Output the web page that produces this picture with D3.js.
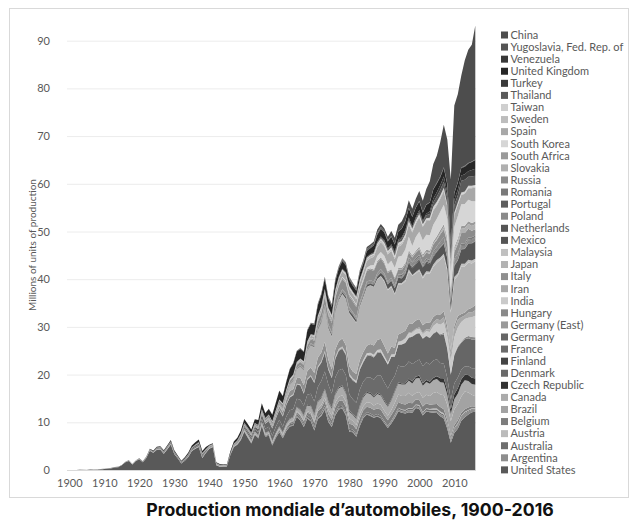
<!DOCTYPE html>
<html>
<head>
<meta charset="utf-8">
<script src="https://cdn.jsdelivr.net/npm/d3@7"></script>
<style>
  body { margin: 0; background: #fff; }
  svg { display: block; }
</style>
</head>
<body>
<svg id="chart" width="637" height="520"></svg>
<script>
// production in millions of units; each country array starts at its first year and runs to 2016
const countries = ["United States", "Argentina", "Australia", "Austria", "Belgium", "Brazil", "Canada",
  "Czech Republic", "Denmark", "Finland", "France", "Germany", "Germany (East)", "Hungary", "India", "Iran",
  "Italy", "Japan", "Malaysia", "Mexico", "Netherlands", "Poland", "Portugal", "Romania", "Russia", "Slovakia",
  "South Africa", "South Korea", "Spain", "Sweden", "Taiwan", "Thailand", "Turkey", "United Kingdom",
  "Venezuela", "Yugoslavia, Fed. Rep. of", "China"];
const firstYear = [1900, 1951, 1946, 1950, 1946, 1957, 1904, 1930, 1950, 1969, 1900, 1901, 1950, 1950, 1946, 1962,
  1900, 1935, 1967, 1950, 1950, 1950, 1960, 1955, 1924, 1993, 1955, 1962, 1946, 1930, 1960, 1965, 1963, 1900,
  1955, 1954, 1955];
const colors = ["#595959", "#8e8e8e", "#6e6e6e", "#bbbbbb", "#7d7d7d", "#a3a3a3", "#ababab", "#333333", "#6a6a6a",
  "#444444", "#6b6b6b", "#666666", "#9a9a9a", "#8a8a8a", "#cacaca", "#a8a8a8", "#8f8f8f", "#b3b3b3", "#c0c0c0",
  "#555555", "#555555", "#8a8a8a", "#5e5e5e", "#7a7a7a", "#8c8c8c", "#b0b0b0", "#9a9a9a", "#d6d6d6", "#a8a8a8",
  "#bdbdbd", "#cfcfcf", "#5a5a5a", "#3a3a3a", "#262626", "#383838", "#555555", "#4d4d4d"];

const unitedStates = [0.004,0.007,0.009,0.011,0.022,0.025,0.034,0.044,0.065,0.13,
  0.19,0.21,0.38,0.49,0.57,0.97,1.62,1.87,1.17,1.88,
  2.23,1.62,2.54,4.03,3.6,4.27,4.3,3.4,4.36,5.34,
  3.36,2.39,1.37,1.92,2.75,3.97,4.45,4.8,2.5,3.58,
  4.47,4.84,1.0,0.7,0.74,0.73,3.09,4.8,5.29,6.25,
  8.0,6.77,5.54,7.32,6.6,9.2,6.92,7.22,5.14,6.73,
  7.91,6.65,8.2,9.11,9.29,11.14,10.4,9.02,10.82,10.21,
  8.28,10.67,11.31,12.68,10.07,8.99,11.5,12.7,12.9,11.48,
  8.01,7.94,6.99,9.2,10.92,11.65,11.34,10.93,11.21,10.85,
  9.78,8.81,9.73,10.9,12.26,11.98,11.83,12.13,12.0,13.02,
  12.8,11.42,12.28,12.11,11.99,11.95,11.26,10.78,8.67,5.71,
  7.74,8.65,10.33,11.07,11.66,12.1,12.2];
const argentina = [0.001,0.002,0.003,0.004,0.006,0.006,0.016,0.027,0.033,
  0.09,0.14,0.13,0.1,0.17,0.19,0.18,0.18,0.18,0.22,
  0.22,0.25,0.27,0.29,0.29,0.24,0.19,0.24,0.18,0.25,
  0.28,0.17,0.13,0.16,0.17,0.14,0.17,0.19,0.16,0.13,
  0.1,0.14,0.26,0.34,0.41,0.29,0.31,0.45,0.46,0.3,
  0.34,0.24,0.16,0.17,0.26,0.32,0.43,0.54,0.6,0.51,
  0.72,0.83,0.76,0.79,0.62,0.53,0.47];
const australia = [0.01,0.02,0.05,0.08,
  0.1,0.12,0.11,0.13,0.16,0.18,0.17,0.19,0.22,0.25,
  0.3,0.25,0.33,0.37,0.39,0.4,0.38,0.4,0.43,0.45,
  0.47,0.46,0.45,0.47,0.46,0.38,0.41,0.4,0.38,0.39,
  0.36,0.38,0.39,0.33,0.37,0.38,0.33,0.32,0.35,0.38,
  0.36,0.3,0.29,0.3,0.33,0.3,0.32,0.32,0.36,0.3,
  0.35,0.32,0.36,0.38,0.41,0.39,0.33,0.33,0.33,0.23,
  0.24,0.22,0.22,0.21,0.18,0.17,0.16];
const austria = [0.005,0.006,0.007,0.008,0.01,0.012,0.013,0.014,0.015,0.016,
  0.018,0.018,0.017,0.015,0.014,0.012,0.012,0.011,0.01,0.01,
  0.01,0.01,0.01,0.01,0.01,0.008,0.008,0.008,0.008,0.01,
  0.01,0.01,0.015,0.02,0.02,0.015,0.01,0.01,0.01,0.015,
  0.02,0.02,0.02,0.05,0.06,0.1,0.1,0.09,0.1,0.11,
  0.14,0.15,0.15,0.12,0.25,0.25,0.27,0.23,0.15,0.07,
  0.1,0.15,0.14,0.16,0.14,0.13,0.1];
const belgium = [0.03,0.05,0.07,0.08,
  0.09,0.1,0.1,0.11,0.12,0.14,0.16,0.18,0.17,0.2,
  0.22,0.2,0.25,0.3,0.33,0.38,0.47,0.55,0.64,0.78,
  0.88,0.92,0.97,1.02,0.93,0.86,1.05,1.1,1.14,1.17,
  1.01,0.98,1.04,1.16,1.05,1.06,1.18,1.17,1.16,1.3,
  1.24,1.15,1.22,1.13,1.2,1.22,1.16,1.12,1.07,1.03,
  1.03,1.19,1.06,0.9,0.9,0.93,0.92,0.83,0.72,0.54,
  0.56,0.56,0.54,0.5,0.52,0.41,0.39];
const brazil = [0.03,0.06,0.1,
  0.13,0.15,0.19,0.17,0.18,0.19,0.22,0.23,0.28,0.35,
  0.42,0.52,0.62,0.75,0.9,0.93,0.99,0.92,1.06,1.13,
  1.17,0.78,0.86,0.9,0.86,0.97,1.06,0.92,1.07,1.01,
  0.91,0.96,1.07,1.39,1.58,1.63,1.8,2.07,1.59,1.36,
  1.68,1.82,1.79,1.83,2.32,2.53,2.61,2.98,3.22,3.18,
  3.38,3.41,3.4,3.71,3.15,2.43,2.16];
const canada = [0.001,0.002,0.002,0.002,0.003,0.005,
  0.006,0.01,0.015,0.02,0.016,0.03,0.06,0.09,0.08,0.09,
  0.09,0.07,0.1,0.15,0.13,0.16,0.2,0.18,0.24,0.26,
  0.15,0.08,0.06,0.07,0.12,0.17,0.16,0.21,0.17,0.16,
  0.23,0.27,0.24,0.18,0.16,0.13,0.09,0.26,0.26,0.29,
  0.39,0.42,0.43,0.48,0.35,0.45,0.47,0.41,0.36,0.37,
  0.4,0.39,0.51,0.63,0.67,0.85,0.9,0.95,1.18,1.35,
  1.16,1.37,1.47,1.58,1.56,1.44,1.64,1.78,1.82,1.63,
  1.37,1.32,1.28,1.5,1.83,1.93,1.85,1.64,1.95,1.93,
  1.92,1.89,1.96,2.24,2.32,2.41,2.4,2.57,2.57,3.06,
  2.96,2.53,2.63,2.55,2.71,2.69,2.57,2.58,2.08,1.49,
  2.07,2.14,2.46,2.38,2.39,2.28,2.37];
const czechRepublic = [0.01,0.01,0.008,0.01,0.012,0.015,0.018,0.02,0.015,0.01,
  0.008,0.007,0.006,0.005,0.004,0.003,0.01,0.015,0.02,0.025,
  0.03,0.03,0.032,0.035,0.04,0.045,0.05,0.055,0.06,0.07,
  0.08,0.085,0.09,0.095,0.1,0.11,0.12,0.13,0.14,0.15,
  0.16,0.17,0.18,0.19,0.19,0.2,0.2,0.2,0.2,0.21,
  0.21,0.21,0.22,0.22,0.22,0.22,0.23,0.23,0.23,0.23,
  0.24,0.2,0.22,0.23,0.19,0.22,0.27,0.37,0.4,0.37,
  0.46,0.47,0.45,0.44,0.45,0.6,0.85,0.94,0.95,0.98,
  1.08,1.2,1.18,1.13,1.25,1.3,1.35];
const denmark = [0.004,0.005,0.005,0.006,0.006,0.007,0.007,0.006,0.006,0.006,
  0.006,0.006,0.005,0.005,0.005,0.004,0.004,0.004,0.003,0.003,
  0.003,0.003,0.003,0.002,0.002,0.002,0.002,0.002,0.002,0.002,
  0.002,0.002,0.002,0.001,0.001,0.001,0.001,0.001,0.001,0.001,
  0.001,0.001,0.001,0.001,0.001,0.001,0.001,0.001,0.001,0.001,
  0.001,0.001,0.001,0.001,0.001,0.001,0.001,0.001,0.001,0.001,
  0.001,0.001,0.001,0.001,0.001,0.001,0.001];
const finland = [0.02,
  0.03,0.03,0.03,0.04,0.04,0.03,0.03,0.03,0.03,0.03,
  0.03,0.03,0.03,0.03,0.03,0.03,0.03,0.03,0.04,0.04,
  0.03,0.02,0.02,0.01,0.01,0.02,0.02,0.03,0.04,0.04,
  0.04,0.04,0.04,0.02,0.01,0.02,0.03,0.02,0.02,0.01,
  0.01,0.003,0.003,0.003,0.005,0.01,0.03];
const france = [0.005,0.007,0.01,0.012,0.015,0.02,0.025,0.025,0.025,0.03,
  0.04,0.04,0.041,0.045,0.03,0.02,0.02,0.02,0.02,0.02,
  0.04,0.055,0.075,0.11,0.145,0.177,0.2,0.19,0.22,0.25,
  0.23,0.2,0.16,0.19,0.18,0.17,0.2,0.2,0.22,0.1,
  0.05,0.03,0.02,0.02,0.01,0.04,0.1,0.14,0.2,0.29,
  0.36,0.45,0.5,0.5,0.6,0.72,0.83,0.93,1.13,1.28,
  1.37,1.2,1.52,1.74,1.62,1.64,2.02,2.01,2.08,2.46,
  2.75,3.01,3.33,3.6,3.46,2.95,3.4,3.51,3.5,3.61,
  3.38,3.02,3.15,3.34,3.06,3.02,3.2,3.49,3.7,3.92,
  3.77,3.61,3.77,3.16,3.56,3.48,3.59,3.58,3.61,3.18,
  3.35,3.63,3.69,3.62,3.67,3.55,3.17,3.02,2.57,2.05,
  2.23,2.24,1.97,1.74,1.82,1.97,2.08];
const germany = [0.001,0.002,0.002,0.003,0.004,0.005,0.006,0.007,0.009,
  0.01,0.013,0.016,0.02,0.015,0.01,0.01,0.01,0.01,0.01,
  0.02,0.025,0.03,0.03,0.03,0.05,0.04,0.1,0.12,0.13,
  0.09,0.07,0.05,0.12,0.17,0.25,0.3,0.33,0.34,0.25,
  0.1,0.1,0.1,0.1,0.08,0.01,0.02,0.03,0.06,0.16,
  0.31,0.37,0.43,0.49,0.68,0.91,1.07,1.21,1.5,1.72,
  2.06,2.15,2.36,2.67,2.91,2.98,3.05,2.48,3.1,3.6,
  3.84,3.98,3.82,3.95,3.1,3.19,3.87,4.1,4.19,4.25,
  3.88,3.9,4.06,4.15,4.05,4.45,4.6,4.63,4.63,4.85,
  4.98,5.02,5.19,4.03,4.36,4.67,4.84,5.02,5.73,5.69,
  5.53,5.69,5.47,5.51,5.57,5.76,5.82,6.21,6.04,5.21,
  5.91,6.31,5.65,5.72,5.91,6.03,6.06];
const germanyEast = [0.02,0.025,0.03,0.035,0.04,0.05,0.055,0.06,0.07,0.08,
  0.09,0.1,0.1,0.11,0.11,0.12,0.12,0.13,0.13,0.14,
  0.15,0.16,0.17,0.18,0.18,0.19,0.2,0.2,0.21,0.21,
  0.22,0.22,0.22,0.22,0.23,0.23,0.23,0.24,0.24,0.25,
  0.15];
const hungary = [0.003,0.004,0.004,0.005,0.005,0.006,0.006,0.007,0.008,0.008,
  0.009,0.01,0.01,0.011,0.011,0.012,0.012,0.013,0.013,0.014,
  0.014,0.014,0.014,0.014,0.014,0.014,0.014,0.014,0.014,0.014,
  0.014,0.013,0.013,0.013,0.013,0.012,0.012,0.012,0.012,0.012,
  0.01,0.01,0.02,0.03,0.04,0.05,0.07,0.08,0.1,0.12,
  0.14,0.14,0.14,0.13,0.12,0.15,0.19,0.29,0.35,0.18,
  0.21,0.22,0.22,0.32,0.44,0.5,0.47];
const india = [0.005,0.008,0.01,0.012,
  0.015,0.017,0.018,0.02,0.022,0.025,0.03,0.035,0.04,0.045,
  0.05,0.055,0.06,0.065,0.07,0.07,0.075,0.075,0.08,0.08,
  0.08,0.08,0.08,0.085,0.08,0.07,0.08,0.09,0.1,0.1,
  0.11,0.13,0.15,0.18,0.22,0.3,0.31,0.33,0.34,0.35,
  0.36,0.37,0.38,0.42,0.5,0.64,0.8,0.8,0.73,0.82,
  0.8,0.81,0.89,1.16,1.51,1.64,2.02,2.25,2.33,2.64,
  3.56,3.93,4.17,3.9,3.84,4.16,4.49];
const iran = [0.002,0.004,0.006,0.01,0.015,0.02,0.025,0.03,
  0.04,0.05,0.06,0.07,0.09,0.1,0.12,0.14,0.15,0.07,
  0.1,0.1,0.1,0.08,0.07,0.05,0.05,0.04,0.04,0.05,
  0.05,0.06,0.07,0.07,0.06,0.07,0.12,0.18,0.2,0.22,
  0.28,0.32,0.4,0.58,0.79,0.82,0.9,1.0,1.05,1.4,
  1.6,1.65,1.0,0.74,1.09,0.98,1.16];
const italy = [0.001,0.001,0.001,0.001,0.002,0.002,0.003,0.003,0.003,0.004,
  0.005,0.006,0.007,0.009,0.01,0.015,0.02,0.02,0.02,0.02,
  0.02,0.025,0.03,0.035,0.04,0.045,0.06,0.055,0.055,0.055,
  0.045,0.03,0.03,0.04,0.045,0.04,0.05,0.07,0.07,0.07,
  0.06,0.05,0.04,0.03,0.01,0.01,0.03,0.04,0.06,0.09,
  0.13,0.15,0.14,0.17,0.21,0.27,0.32,0.35,0.4,0.5,
  0.64,0.76,0.94,1.18,1.09,1.18,1.37,1.54,1.66,1.6,
  1.85,1.82,1.84,1.96,1.77,1.46,1.59,1.58,1.66,1.63,
  1.61,1.43,1.45,1.58,1.6,1.57,1.83,1.91,2.11,2.22,
  2.12,1.88,1.69,1.27,1.53,1.67,1.55,1.82,1.69,1.7,
  1.74,1.58,1.43,1.32,1.14,1.04,1.21,1.28,1.02,0.84,
  0.84,0.79,0.67,0.66,0.7,1.01,1.1];
const japan = [0.005,0.01,0.02,0.02,0.03,
  0.05,0.05,0.04,0.03,0.02,0.01,0.015,0.01,0.02,0.03,
  0.03,0.04,0.04,0.05,0.07,0.07,0.11,0.18,0.19,0.26,
  0.48,0.81,0.99,1.28,1.7,1.88,2.29,3.15,4.09,4.67,
  5.29,5.81,6.29,7.08,6.55,6.94,7.84,8.51,9.27,9.64,
  11.04,11.18,10.73,11.11,11.46,12.27,12.26,12.25,12.7,13.03,
  13.49,13.25,12.5,11.23,10.55,10.2,10.35,10.98,10.05,9.9,
  10.14,9.78,10.26,10.29,10.51,10.8,11.48,11.6,11.58,7.93,
  9.63,8.4,9.94,9.63,9.77,9.28,9.2];
const malaysia = [0.005,0.01,0.015,
  0.02,0.025,0.03,0.04,0.05,0.05,0.06,0.07,0.08,0.09,
  0.1,0.11,0.1,0.09,0.08,0.06,0.05,0.05,0.08,0.12,
  0.2,0.22,0.2,0.2,0.24,0.27,0.34,0.46,0.16,0.3,
  0.28,0.46,0.46,0.44,0.47,0.56,0.5,0.44,0.53,0.49,
  0.57,0.53,0.57,0.6,0.6,0.61,0.51];
const mexico = [0.02,0.025,0.03,0.03,0.03,0.035,0.04,0.045,0.045,0.05,
  0.05,0.06,0.065,0.07,0.09,0.1,0.12,0.13,0.15,0.17,
  0.19,0.21,0.23,0.29,0.35,0.36,0.32,0.28,0.38,0.44,
  0.49,0.6,0.47,0.29,0.36,0.46,0.34,0.4,0.51,0.64,
  0.82,0.99,1.08,1.08,1.12,0.93,1.22,1.36,1.45,1.55,
  1.94,1.85,1.8,1.58,1.58,1.68,2.05,2.1,2.17,1.56,
  2.34,2.68,3.0,3.05,3.37,3.57,3.6];
const netherlands = [0.01,0.012,0.014,0.016,0.018,0.02,0.022,0.025,0.03,0.04,
  0.05,0.05,0.055,0.06,0.065,0.07,0.075,0.08,0.085,0.09,
  0.1,0.1,0.1,0.11,0.1,0.1,0.1,0.1,0.1,0.11,
  0.12,0.12,0.12,0.12,0.12,0.12,0.13,0.13,0.14,0.15,
  0.15,0.1,0.11,0.09,0.1,0.1,0.2,0.21,0.26,0.3,
  0.27,0.24,0.23,0.22,0.25,0.18,0.16,0.14,0.13,0.07,
  0.13,0.11,0.09,0.05,0.09,0.1,0.09];
const poland = [0.01,0.015,0.02,0.025,0.03,0.035,0.035,0.04,0.04,0.04,
  0.04,0.045,0.05,0.055,0.06,0.065,0.07,0.075,0.08,0.09,
  0.1,0.11,0.13,0.16,0.19,0.2,0.25,0.3,0.35,0.38,
  0.4,0.3,0.28,0.32,0.33,0.34,0.34,0.35,0.35,0.34,
  0.31,0.2,0.25,0.35,0.35,0.4,0.42,0.58,0.6,0.65,
  0.5,0.35,0.31,0.32,0.6,0.62,0.71,0.79,0.95,0.88,
  0.87,0.84,0.65,0.59,0.6,0.66,0.68];
const portugal = [0.01,0.015,0.02,0.025,0.03,0.035,0.04,0.045,0.05,0.055,
  0.06,0.065,0.07,0.075,0.08,0.08,0.085,0.09,0.09,0.095,
  0.1,0.1,0.11,0.11,0.11,0.12,0.12,0.13,0.13,0.14,
  0.14,0.15,0.15,0.15,0.16,0.23,0.23,0.24,0.25,0.25,
  0.25,0.24,0.25,0.24,0.23,0.22,0.23,0.18,0.17,0.13,
  0.16,0.19,0.16,0.15,0.16,0.16,0.14];
const romania = [0.005,0.005,0.006,0.007,0.008,
  0.01,0.012,0.014,0.016,0.018,0.02,0.022,0.025,0.03,0.035,
  0.04,0.045,0.05,0.06,0.065,0.07,0.08,0.085,0.09,0.095,
  0.1,0.1,0.1,0.1,0.11,0.11,0.11,0.11,0.11,0.11,
  0.1,0.09,0.08,0.08,0.07,0.07,0.1,0.11,0.11,0.09,
  0.08,0.07,0.08,0.1,0.12,0.19,0.21,0.24,0.25,0.3,
  0.35,0.34,0.34,0.41,0.39,0.39,0.36];
const russia = [0.001,0.001,0.001,0.001,0.001,0.002,
  0.004,0.02,0.024,0.05,0.07,0.1,0.14,0.2,0.21,0.2,
  0.15,0.12,0.04,0.05,0.06,0.07,0.1,0.13,0.2,0.28,
  0.36,0.33,0.3,0.35,0.4,0.45,0.46,0.5,0.51,0.5,
  0.52,0.56,0.58,0.59,0.6,0.62,0.68,0.73,0.8,0.84,
  0.92,1.14,1.38,1.6,1.85,1.96,2.03,2.1,2.15,2.17,
  2.2,2.2,2.17,2.19,2.2,2.23,2.24,2.23,2.21,2.2,
  2.0,1.86,1.55,1.3,1.04,1.0,1.0,1.1,1.02,1.17,
  1.2,1.25,1.22,1.28,1.39,1.35,1.5,1.66,1.79,0.72,
  1.4,1.99,2.23,2.18,1.88,1.38,1.3];
const slovakia = [0.01,0.02,0.03,0.04,0.05,0.13,0.13,
  0.18,0.18,0.23,0.28,0.22,0.22,0.3,0.57,0.58,0.46,
  0.56,0.64,0.9,0.98,0.99,1.0,1.04];
const southAfrica = [0.03,0.04,0.05,0.06,0.07,
  0.08,0.09,0.1,0.12,0.14,0.16,0.18,0.2,0.22,0.25,
  0.3,0.3,0.3,0.33,0.35,0.35,0.3,0.25,0.3,0.33,
  0.4,0.42,0.38,0.35,0.37,0.3,0.25,0.28,0.31,0.32,
  0.33,0.3,0.3,0.3,0.31,0.39,0.36,0.36,0.33,0.32,
  0.36,0.4,0.4,0.42,0.45,0.53,0.59,0.53,0.56,0.37,
  0.47,0.53,0.54,0.55,0.57,0.62,0.6];
const southKorea = [0.002,0.003,0.004,0.005,0.007,0.01,0.015,0.02,
  0.03,0.02,0.02,0.03,0.03,0.04,0.05,0.09,0.16,0.2,
  0.12,0.13,0.16,0.22,0.27,0.38,0.6,0.98,1.08,1.13,
  1.32,1.5,1.73,2.05,2.31,2.53,2.81,2.82,1.95,2.84,
  3.11,2.95,3.15,3.18,3.47,3.7,3.84,4.09,3.83,3.51,
  4.27,4.66,4.56,4.52,4.52,4.56,4.23];
const spain = [0.001,0.002,0.003,0.004,
  0.005,0.006,0.008,0.01,0.013,0.02,0.025,0.03,0.04,0.045,
  0.05,0.07,0.1,0.14,0.15,0.21,0.29,0.36,0.39,0.45,
  0.54,0.59,0.7,0.82,0.84,0.81,0.86,1.13,1.14,1.12,
  1.18,0.99,1.07,1.29,1.31,1.42,1.53,1.7,1.87,2.05,
  2.05,2.08,2.12,1.77,2.14,2.33,2.41,2.56,2.83,2.85,
  3.03,2.85,2.86,3.03,3.01,2.75,2.78,2.89,2.54,2.17,
  2.39,2.35,1.98,2.16,2.4,2.73,2.89];
const sweden = [0.005,0.005,0.004,0.005,0.006,0.007,0.008,0.01,0.01,0.01,
  0.008,0.006,0.005,0.005,0.005,0.005,0.01,0.015,0.02,0.025,
  0.03,0.035,0.04,0.04,0.045,0.05,0.06,0.07,0.09,0.11,
  0.13,0.14,0.15,0.17,0.19,0.2,0.21,0.22,0.25,0.28,
  0.31,0.32,0.33,0.34,0.36,0.37,0.37,0.28,0.3,0.35,
  0.3,0.3,0.35,0.41,0.43,0.45,0.46,0.48,0.47,0.45,
  0.4,0.34,0.35,0.35,0.4,0.39,0.37,0.38,0.37,0.34,
  0.3,0.29,0.28,0.29,0.34,0.34,0.33,0.37,0.31,0.15,
  0.22,0.19,0.16,0.16,0.15,0.19,0.2];
const taiwan = [0.003,0.004,0.005,0.006,0.006,0.007,0.007,0.008,0.009,0.01,
  0.01,0.015,0.02,0.03,0.04,0.05,0.06,0.08,0.1,0.12,
  0.13,0.13,0.12,0.14,0.15,0.16,0.18,0.22,0.26,0.32,
  0.36,0.41,0.42,0.4,0.42,0.41,0.38,0.38,0.4,0.35,
  0.37,0.27,0.33,0.39,0.43,0.45,0.3,0.28,0.18,0.23,
  0.3,0.34,0.34,0.34,0.38,0.35,0.31];
const thailand = [0.003,0.005,0.007,0.008,0.01,
  0.01,0.012,0.015,0.02,0.025,0.03,0.035,0.04,0.05,0.06,
  0.07,0.07,0.07,0.08,0.08,0.08,0.09,0.1,0.15,0.2,
  0.3,0.27,0.33,0.42,0.43,0.52,0.56,0.36,0.16,0.33,
  0.41,0.46,0.58,0.75,0.93,1.12,1.19,1.29,1.39,1.0,
  1.64,1.46,2.48,2.46,1.88,1.91,1.94];
const turkey = [0.002,0.004,0.006,0.008,0.01,0.015,0.02,
  0.03,0.035,0.04,0.05,0.06,0.07,0.08,0.08,0.07,0.06,
  0.05,0.06,0.07,0.08,0.09,0.1,0.12,0.15,0.16,0.2,
  0.21,0.24,0.27,0.35,0.22,0.28,0.28,0.34,0.34,0.3,
  0.43,0.27,0.35,0.56,0.82,0.88,0.99,1.1,1.15,0.87,
  1.09,1.19,1.07,1.13,1.17,1.36,1.49];
const unitedKingdom = [0.001,0.002,0.003,0.004,0.006,0.008,0.01,0.012,0.015,0.018,
  0.02,0.022,0.025,0.03,0.025,0.02,0.02,0.015,0.015,0.03,
  0.05,0.04,0.07,0.09,0.15,0.17,0.18,0.21,0.21,0.24,
  0.24,0.23,0.23,0.29,0.34,0.4,0.46,0.51,0.45,0.4,
  0.15,0.14,0.16,0.12,0.13,0.14,0.37,0.44,0.51,0.63,
  0.78,0.73,0.69,0.83,1.04,1.24,1.0,1.15,1.36,1.56,
  1.81,1.46,1.67,2.01,2.33,2.18,2.04,1.94,2.23,2.18,
  2.1,2.2,2.33,2.16,1.94,1.65,1.71,1.72,1.61,1.48,
  1.31,1.18,1.16,1.29,1.13,1.31,1.25,1.39,1.54,1.63,
  1.57,1.45,1.54,1.57,1.69,1.77,1.92,1.94,1.98,1.97,
  1.81,1.68,1.82,1.85,1.86,1.8,1.65,1.75,1.65,1.09,
  1.39,1.46,1.58,1.6,1.6,1.68,1.82];
const venezuela = [0.005,0.008,0.01,0.015,0.02,
  0.03,0.03,0.035,0.04,0.045,0.05,0.055,0.06,0.065,0.07,
  0.08,0.09,0.1,0.12,0.14,0.15,0.16,0.17,0.18,0.16,
  0.14,0.15,0.14,0.1,0.08,0.1,0.12,0.13,0.14,0.1,
  0.08,0.1,0.11,0.08,0.07,0.08,0.07,0.11,0.1,0.06,
  0.1,0.13,0.08,0.04,0.1,0.15,0.17,0.17,0.14,0.11,
  0.1,0.13,0.1,0.07,0.04,0.02,0.003];
const yugoslavia = [0.005,0.008,0.01,0.015,0.02,0.025,
  0.03,0.035,0.04,0.05,0.06,0.07,0.08,0.09,0.1,0.12,
  0.15,0.17,0.19,0.21,0.23,0.25,0.26,0.27,0.28,0.29,
  0.29,0.28,0.27,0.26,0.26,0.25,0.26,0.28,0.29,0.3,
  0.3,0.2,0.05,0.02,0.01,0.01,0.01,0.01,0.02,0.02,
  0.02,0.02,0.015,0.015,0.015,0.014,0.014,0.012,0.011,0.01,
  0.016,0.014,0.01,0.11,0.1,0.08,0.08];
const china = [0.0001,0.002,0.008,0.016,0.02,
  0.023,0.004,0.01,0.02,0.028,0.04,0.056,0.02,0.025,0.053,
  0.087,0.11,0.11,0.12,0.1,0.14,0.13,0.13,0.15,0.19,
  0.22,0.18,0.2,0.24,0.32,0.44,0.37,0.47,0.65,0.59,
  0.51,0.71,1.06,1.3,1.35,1.45,1.47,1.58,1.63,1.83,
  2.07,2.33,3.29,4.44,5.23,5.71,7.19,8.88,9.3,13.79,
  18.26,18.42,19.27,22.12,23.72,24.5,28.12];

const seriesValues = [unitedStates, argentina, australia, austria, belgium, brazil, canada, czechRepublic,
  denmark, finland, france, germany, germanyEast, hungary, india, iran, italy, japan, malaysia, mexico,
  netherlands, poland, portugal, romania, russia, slovakia, southAfrica, southKorea, spain, sweden, taiwan,
  thailand, turkey, unitedKingdom, venezuela, yugoslavia, china];

const years = d3.range(1900, 2017);
const yearTicks = [1900, 1910, 1920, 1930, 1940, 1950, 1960, 1970, 1980, 1990, 2000, 2010];
const valueTicks = [0, 10, 20, 30, 40, 50, 60, 70, 80, 90];

// build the table the stack layout wants
const table = years.map(yr => {
  const row = { year: yr };
  countries.forEach((c, i) => {
    const k = yr - firstYear[i];
    const v = seriesValues[i][k];
    row[c] = (k >= 0 && v !== undefined) ? v : 0;
  });
  return row;
});

const svg = d3.select('#chart');
const font = 'Lato, "Liberation Sans", sans-serif';

svg.append('rect')
  .attr('x', 9.5).attr('y', 8.5)
  .attr('width', 619).attr('height', 489)
  .attr('fill', '#fff')
  .attr('stroke', '#d9d9d9');

const x = d3.scaleLinear().domain([1900, 2016]).range([69.3, 475.3]);
const y = d3.scaleLinear().domain([0, 90]).range([470, 40.7]);

// y axis + gridlines
const yAxis = svg.append('g')
  .attr('transform', 'translate(67,0)')
  .call(d3.axisLeft(y).tickValues(valueTicks).tickSize(-409).tickPadding(17));
yAxis.select('.domain').remove();
yAxis.selectAll('line').attr('stroke', '#ececec');
yAxis.selectAll('text')
  .style('font-family', font)
  .style('font-size', '11px')
  .attr('fill', '#595959');

// stacked areas
const stack = d3.stack().keys(countries);
const layers = stack(table);

const area = d3.area()
  .x(d => x(d.data.year))
  .y0(d => y(d[0]))
  .y1(d => y(d[1]));

svg.append('g')
  .selectAll('path')
  .data(layers)
  .join('path')
  .attr('d', area)
  .attr('fill', (d, i) => colors[i]);

// x axis
svg.append('line')
  .attr('x1', 67).attr('x2', 476)
  .attr('y1', 470.5).attr('y2', 470.5)
  .attr('stroke', '#d9d9d9');

const xAxis = svg.append('g')
  .attr('transform', 'translate(0,470)')
  .call(d3.axisBottom(x).tickValues(yearTicks).tickFormat(d3.format('d')).tickSize(0).tickPadding(9));
xAxis.select('.domain').remove();
xAxis.selectAll('text')
  .style('font-family', font)
  .style('font-size', '11px')
  .attr('fill', '#595959');

// y axis title
svg.append('text')
  .attr('transform', 'translate(36,245) rotate(-90)')
  .attr('text-anchor', 'middle')
  .style('font-family', font)
  .style('font-size', '10px')
  .attr('fill', '#595959')
  .text('Millions of units of production');

// legend, top entry is the last series
const legendItems = countries.map((c, i) => ({ name: c, color: colors[i] })).reverse();
const legend = svg.append('g')
  .selectAll('g')
  .data(legendItems)
  .join('g')
  .attr('transform', (d, i) => `translate(501,${35 + i * 12.08})`);

legend.append('rect')
  .attr('x', 0).attr('y', -3.5)
  .attr('width', 7).attr('height', 7)
  .attr('fill', d => d.color);

legend.append('text')
  .attr('x', 9.5).attr('y', 0)
  .attr('dy', '0.35em')
  .style('font-family', font)
  .style('font-size', '11px')
  .attr('fill', '#595959')
  .text(d => d.name);

// title below the frame
svg.append('text')
  .attr('x', 350).attr('y', 516)
  .attr('text-anchor', 'middle')
  .style('font-family', 'Inter, "Open Sans", sans-serif')
  .style('font-weight', '700')
  .style('font-size', '17.7px')
  .attr('fill', '#111')
  .text('Production mondiale d’automobiles, 1900-2016');
</script>
</body>
</html>
